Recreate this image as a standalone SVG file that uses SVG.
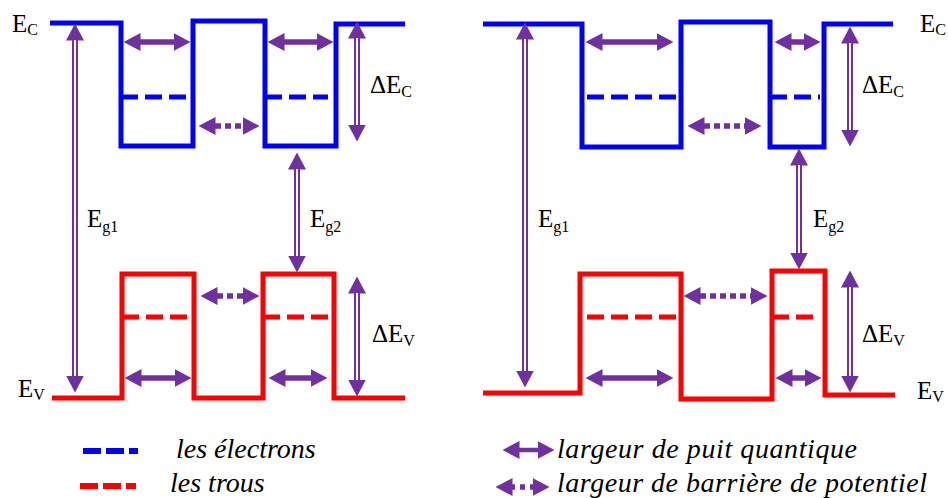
<svg xmlns="http://www.w3.org/2000/svg" width="948" height="498" viewBox="0 0 948 498">
<style>
.band{fill:none;stroke-width:5;stroke-linejoin:miter}
.cb{stroke:#0000FF}
.vb{stroke:#FF0000}
.lvl{fill:none;stroke-width:5;stroke-dasharray:17,7}
.arr{fill:none;stroke:#7030A0;stroke-width:5.5;marker-start:url(#ah);marker-end:url(#ah)}
.dot{stroke-dasharray:6,4}
.dbl{fill:none;stroke:#7030A0;stroke-width:6;marker-start:url(#ah);marker-end:url(#ah)}
.dblw{fill:none;stroke:#FFFFFF;stroke-width:2}
.t{fill:#000;font-size:25px}
.sub{font-size:16px}
.leg{font-style:italic;font-size:28px}
</style>
<defs>
<marker id="ah" viewBox="0 -9 17 18" refX="0.5" refY="0" markerWidth="17" markerHeight="18" orient="auto-start-reverse" markerUnits="userSpaceOnUse">
<path d="M0,-9 L17,0 L0,9 Z" fill="#7030A0"/>
</marker>
</defs>

<g id="left-diagram">
<g id="left-bands">
<path class="band cb" d="M50,23 H121 V146 H193 V21 H265 V146 H336 V24 H405"/>
<path class="band vb" d="M52,398 H122 V274 H194 V398 H263 V274 H334 V398 H405"/>
</g>
<g id="left-levels">
<path class="lvl cb" d="M121,97 H187 M265,97 H328"/>
<path class="lvl vb" d="M122,317 H190 M263,317 H328"/>
</g>
</g>

<g id="right-diagram">
<g id="right-bands">
<path class="band cb" d="M483,24 H582 V147 H681 V22 H770 V147 H824 V24 H893"/>
<path class="band vb" d="M483,393 H580 V274 H681 V399 H772 V271 H825 V395 H895"/>
</g>
<g id="right-levels">
<path class="lvl cb" d="M587,97 H678 M770,97 H820"/>
<path class="lvl vb" d="M587,317 H678 M772,317 H820"/>
</g>
</g>

<g id="connectors">
<path class="arr" d="M140,42 H174"/>
<path class="arr" d="M284,42 H317"/>
<path class="arr" d="M141,378 H175"/>
<path class="arr" d="M285,378 H311"/>
<path class="arr dot" d="M215,126 H243"/>
<path class="arr dot" d="M217,296 H243"/>
<path class="arr" d="M602,42 H657"/>
<path class="arr" d="M791,42 H804"/>
<path class="arr" d="M602,378 H657"/>
<path class="arr" d="M792,378 H805"/>
<path class="arr dot" d="M704,126 H745"/>
<path class="arr dot" d="M700,296 H751"/>
<path class="dbl" d="M75,40 V376"/><path class="dblw" d="M75,40 V376"/>
<path class="dbl" d="M297,169 V256"/><path class="dblw" d="M297,169 V256"/>
<path class="dbl" d="M357,38 V125"/><path class="dblw" d="M357,38 V125"/>
<path class="dbl" d="M357,293 V380"/><path class="dblw" d="M357,293 V380"/>
<path class="dbl" d="M525,39 V371"/><path class="dblw" d="M525,39 V371"/>
<path class="dbl" d="M799,165 V253"/><path class="dblw" d="M799,165 V253"/>
<path class="dbl" d="M850,43 V130"/><path class="dblw" d="M850,43 V130"/>
<path class="dbl" d="M850,287 V376"/><path class="dblw" d="M850,287 V376"/>
</g>

<g id="labels" font-family="'Liberation Serif', 'DejaVu Serif', serif">
<text class="t" x="12" y="32">E<tspan class="sub" dy="3">C</tspan></text>
<text class="t" x="18" y="397">E<tspan class="sub" dy="3">V</tspan></text>
<text class="t" x="87" y="227">E<tspan class="sub" dy="5">g1</tspan></text>
<text class="t" x="310" y="227">E<tspan class="sub" dy="5">g2</tspan></text>
<text class="t" x="370" y="93">ΔE<tspan class="sub" dy="4">C</tspan></text>
<text class="t" x="372" y="342">ΔE<tspan class="sub" dy="4">V</tspan></text>
<text class="t" x="920" y="32">E<tspan class="sub" dy="3">C</tspan></text>
<text class="t" x="917" y="399">E<tspan class="sub" dy="3">V</tspan></text>
<text class="t" x="538" y="227">E<tspan class="sub" dy="5">g1</tspan></text>
<text class="t" x="813" y="227">E<tspan class="sub" dy="5">g2</tspan></text>
<text class="t" x="862" y="93">ΔE<tspan class="sub" dy="4">C</tspan></text>
<text class="t" x="862" y="342">ΔE<tspan class="sub" dy="4">V</tspan></text>
</g>

<g id="legend" font-family="'Liberation Serif', 'DejaVu Serif', serif">
<path d="M83,451 H138" fill="none" stroke="#0000FF" stroke-width="6" stroke-dasharray="18,5"/>
<path d="M80,486 H136" fill="none" stroke="#FF0000" stroke-width="6" stroke-dasharray="18,5"/>
<text class="t leg" x="176" y="458">les électrons</text>
<text class="t leg" x="170" y="492">les trous</text>
<path class="arr" d="M519,450 H538" style="stroke-width:4.5"/>
<path class="arr" d="M512,487 H533" style="stroke-dasharray:3,5,5,5,3"/>
<text class="t leg" x="557" y="458" textLength="300" lengthAdjust="spacing">largeur de puit quantique</text>
<text class="t leg" x="557" y="492" textLength="370" lengthAdjust="spacing">largeur de barrière de potentiel</text>
</g>
</svg>
